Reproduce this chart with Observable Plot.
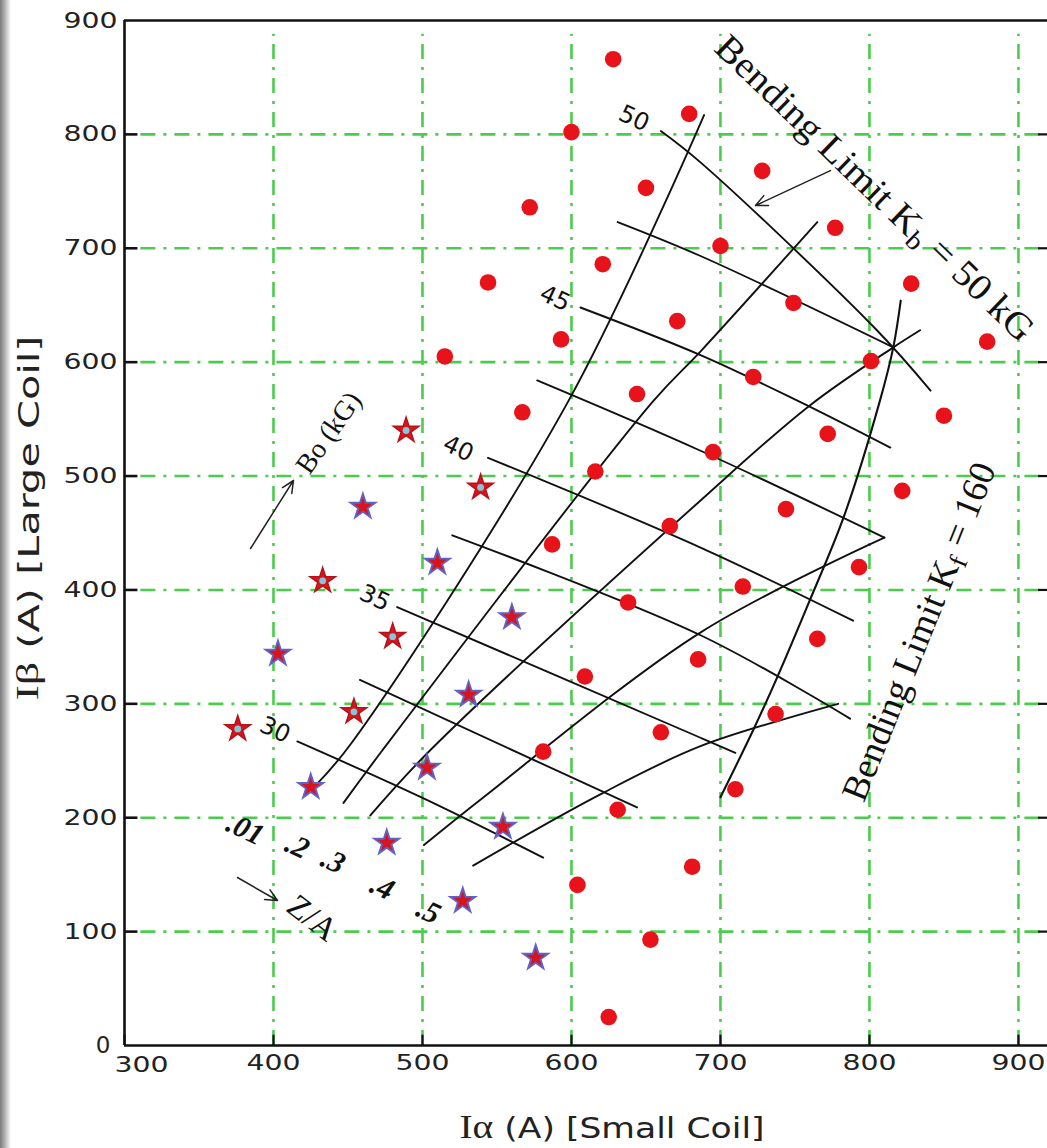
<!DOCTYPE html>
<html><head><meta charset="utf-8">
<script src="https://cdn.jsdelivr.net/npm/d3@7"></script>
<script src="https://cdn.jsdelivr.net/npm/@observablehq/plot@0.6"></script>
<style>
html,body{margin:0;padding:0;background:#fff;}
#wrap{position:relative;width:1047px;height:1148px;overflow:hidden;
 background:linear-gradient(to right,#7a7a7a 0px,#a8a8a8 4px,#dadada 8px,#fff 11px);}
#wrap svg{position:absolute;left:0;top:0;}
</style></head><body><div id="wrap"></div>
<script>
// ---- axes ----
const xTicks = [300, 400, 500, 600, 700, 800, 900];
const yTicks = [0, 100, 200, 300, 400, 500, 600, 700, 800, 900];
const gridX = [400, 500, 600, 700, 800, 900];
const gridY = [100, 200, 300, 400, 500, 600, 700, 800];

// ---- measured points [Iα, Iβ] ----
const redDots = [
 [628,866],[679,818],[600,802],[650,753],[572,736],[728,768],[777,718],[700,702],
 [621,686],[544,670],[671,636],[749,652],[828,669],[879,618],[593,620],[515,605],
 [801,601],[722,587],[644,572],[567,556],[850,553],[772,537],[695,521],[616,504],
 [822,487],[744,471],[666,456],[587,440],[793,420],[715,403],[638,389],[765,357],
 [685,339],[609,324],[737,291],[660,275],[581,258],[710,225],[631,207],[681,157],
 [604,141],[653,93],[625,25]
];
const starsRedCyan = [[376,278],[433,408],[489,540],[480,359],[539,490],[454,293]];
const starsBlueRed = [[403,344],[425,227],[460,473],[510,424],[560,376],[531,308],
 [503,244],[476,178],[554,192],[527,127],[576,77]];

// ---- nomogram lines ----
const boLevels = [30, 32.5, 35, 37.5, 40, 42.5, 45, 47.5, 50];
const boPaths = [
 [[416,267],[499,218],[581,165]],
 [[458,321],[644,209]],
 [[483,385],[687,270],[710,257]],
 [[520,448],[687,360],[787,287]],
 [[544,516],[687,437],[789,373]],
 [[577,584],[687,522],[810,446]],
 [[606,648],[687,606],[752,566],[814,525]],
 [[631,723],[687,693],[816,613]],
 [[660,803],[687,775],[805,628],[841,575]]
];
const zaLevels = [".01", ".2", ".3", ".4", ".5"];
const zaPaths = [
 [[428,228],[452,265],[598,566],[689,817]],
 [[447,213],[473,259],[655,566],[687,610],[765,723]],
 [[465,202],[505,259],[687,479],[760,562],[816,613],[834,628]],
 [[501,176],[541,218],[687,363],[810,446]],
 [[534,158],[620,221],[687,263],[779,300]]
];
const kfPath = [[821,654],[816,613],[807,566],[783,465],[760,391],[738,323],[722,277],[700,218]];

// ---- annotations ----
const boLabels = ["30", "35", "40", "45", "50"];
const boLabelPos = [[401,277],[468,393],[524,524],[589,656],[642,814]];
const zaLabelPos = [[381,190],[416,175],[440,162],[473,139],[504,118]];
const arrowBo = [384.6, 436.4, 413.4, 496.1];
const arrowZA = [375.8, 147.5, 402.7, 127.3];
const arrowKb = [773.8, 768.2, 723.5, 737.5];

// build tables from arrays
const lineRows = [];
boPaths.forEach((p, i) => p.forEach(([x, y]) => lineRows.push({id: "B" + boLevels[i], x, y})));
zaPaths.forEach((p, i) => p.forEach(([x, y]) => lineRows.push({id: "Z" + zaLevels[i], x, y})));
const kfRows = kfPath.map(([x, y]) => ({x, y}));
const arrows = [arrowBo, arrowZA, arrowKb].map(a => ({x1: a[0], y1: a[1], x2: a[2], y2: a[3]}));

const green = "#4ccc4c";
const dash = "15,8,3,8";
const XMAX = 919.5;
const tickFont = {fontSize: 22, fontFamily: "DejaVu Sans", fill: "#222"};

const plot = Plot.plot({
  width: 1047, height: 1148,
  marginLeft: 124, marginRight: 0, marginTop: 20, marginBottom: 103,
  x: {domain: [300, XMAX], axis: null},
  y: {domain: [0, 900], axis: null},
  style: {background: "transparent", overflow: "visible"},
  marks: [
    Plot.ruleX(gridX, {y1: 0, y2: 888, stroke: green, strokeWidth: 2.6, strokeDasharray: dash}),
    Plot.ruleY(gridY, {x1: 311, x2: XMAX, stroke: green, strokeWidth: 2.6, strokeDasharray: dash}),
    // frame
    Plot.ruleX([300], {y1: 0, y2: 900, stroke: "#111", strokeWidth: 2.6}),
    Plot.ruleY([0, 900], {x1: 300, x2: XMAX, stroke: "#111", strokeWidth: 2.6}),
    Plot.ruleX(xTicks, {y1: 0, y2: 9, stroke: "#111", strokeWidth: 2.2}),
    Plot.ruleY(yTicks.slice(1, 9), {x1: 300, x2: 309, stroke: "#111", strokeWidth: 2.6}),
    Plot.ruleY(yTicks.slice(1, 9), {x1: XMAX - 6, x2: XMAX, stroke: "#111", strokeWidth: 2.2}),
    // tick labels
    Plot.text(xTicks.slice(1), {x: d => d, y: 0, dy: 17, text: d => String(d), ...tickFont}),
    Plot.text([300], {x: d => d, y: 0, dx: 17, dy: 19, text: d => String(d), ...tickFont}),
    Plot.text(yTicks.slice(1), {x: 300, y: d => d, dx: -7, text: d => String(d), textAnchor: "end", ...tickFont}),
    Plot.text([0], {x: 300, y: d => d, dx: -14, dy: 0, text: d => String(d), textAnchor: "end",
      fontSize: 23, fontFamily: "DejaVu Sans", fill: "#222"}),
    // nomogram
    Plot.line(lineRows, {x: "x", y: "y", z: "id", stroke: "#111", strokeWidth: 1.9, curve: "catmull-rom"}),
    Plot.line(kfRows, {x: "x", y: "y", stroke: "#111", strokeWidth: 2.1, curve: "catmull-rom"}),
    Plot.arrow(arrows, {x1: "x1", y1: "y1", x2: "x2", y2: "y2", stroke: "#222", strokeWidth: 1.5,
      headLength: 13, headAngle: 50}),
    // labels
    Plot.text(boLabels, {x: (d, i) => boLabelPos[i][0], y: (d, i) => boLabelPos[i][1], text: d => d,
      rotate: 25, fontSize: 24, fontFamily: "DejaVu Sans", fill: "#111"}),
    Plot.text(zaLevels, {x: (d, i) => zaLabelPos[i][0], y: (d, i) => zaLabelPos[i][1], text: d => d,
      rotate: 25, fontSize: 30, fontFamily: "Liberation Serif", fontStyle: "italic", fontWeight: "bold", fill: "#111"}),
    Plot.text(["Z/A"], {x: 426, y: 112, text: d => d, rotate: 38, fontSize: 33,
      fontFamily: "Liberation Serif", fill: "#111"}),
    Plot.text(["Bo (kG)"], {x: 437, y: 538, text: d => d, rotate: -55, fontSize: 28,
      fontFamily: "Liberation Serif", fill: "#111"}),
    Plot.text(["Bending Limit Kb = 50 kG"], {x: 803, y: 752, text: d => d, rotate: 44, fontSize: 37,
      fontFamily: "Liberation Serif", fill: "#111"}),
    Plot.text(["Bending Limit Kf = 160"], {x: 834, y: 363, text: d => d, rotate: -68, fontSize: 37,
      fontFamily: "Liberation Serif", fill: "#111"}),
    // data points
    Plot.dot(redDots, {x: d => d[0], y: d => d[1], r: 8.3, fill: "#e8121a"}),
    Plot.dot(starsRedCyan, {x: d => d[0], y: d => d[1], r: 8, symbol: "star", fill: "#d8141c",
      stroke: "#b5121a", strokeWidth: 1.5}),
    Plot.dot(starsRedCyan, {x: d => d[0], y: d => d[1], r: 3.4, fill: "#86c6da"}),
    Plot.dot(starsBlueRed, {x: d => d[0], y: d => d[1], r: 7.8, symbol: "star", fill: "#d8141c",
      stroke: "#6062c8", strokeWidth: 1.9})
  ]
});

const svg = d3.select(plot);
const allText = Array.from(plot.querySelectorAll("text"));
// wide geometric look for the 3-digit tick numbers
allText.filter(t => /^\d00$/.test(t.textContent.trim())).forEach(t => {
  t.setAttribute("textLength", 54);
  t.setAttribute("lengthAdjust", "spacingAndGlyphs");
});
// subscripts for the limit labels
function subscript(prefix, before, sub, after, len) {
  allText.filter(t => t.textContent.trim().startsWith(prefix)).forEach(el => {
    const t = d3.select(el);
    t.text(null);
    t.append("tspan").text(before);
    t.append("tspan").attr("font-size", "72%").attr("dy", "0.22em").text(sub);
    t.append("tspan").attr("dy", "-0.22em").text(after);
    t.attr("textLength", len).attr("lengthAdjust", "spacingAndGlyphs");
  });
}
subscript("Bending Limit Kb", "Bending Limit K", "b", " = 50 kG", 425);
subscript("Bending Limit Kf", "Bending Limit K", "f", " = 160", 360);

// axis titles
const yl = svg.append("text")
  .attr("transform", "translate(31,518) rotate(-90)")
  .attr("text-anchor", "middle").attr("dominant-baseline", "middle")
  .attr("font-size", 28).attr("fill", "#222")
  .attr("textLength", 365).attr("lengthAdjust", "spacingAndGlyphs");
yl.append("tspan").attr("font-family", "Liberation Serif").attr("font-size", 31).text("Iβ");
yl.append("tspan").attr("font-family", "DejaVu Sans").text(" (A) [Large Coil]");
const xl = svg.append("text")
  .attr("transform", "translate(612,1130)")
  .attr("text-anchor", "middle").attr("dominant-baseline", "middle")
  .attr("font-size", 29).attr("fill", "#222")
  .attr("textLength", 305).attr("lengthAdjust", "spacingAndGlyphs");
xl.append("tspan").attr("font-family", "Liberation Serif").attr("font-size", 33).text("Iα");
xl.append("tspan").attr("font-family", "DejaVu Sans").text(" (A) [Small Coil]");

document.getElementById("wrap").appendChild(plot);
</script></body></html>
